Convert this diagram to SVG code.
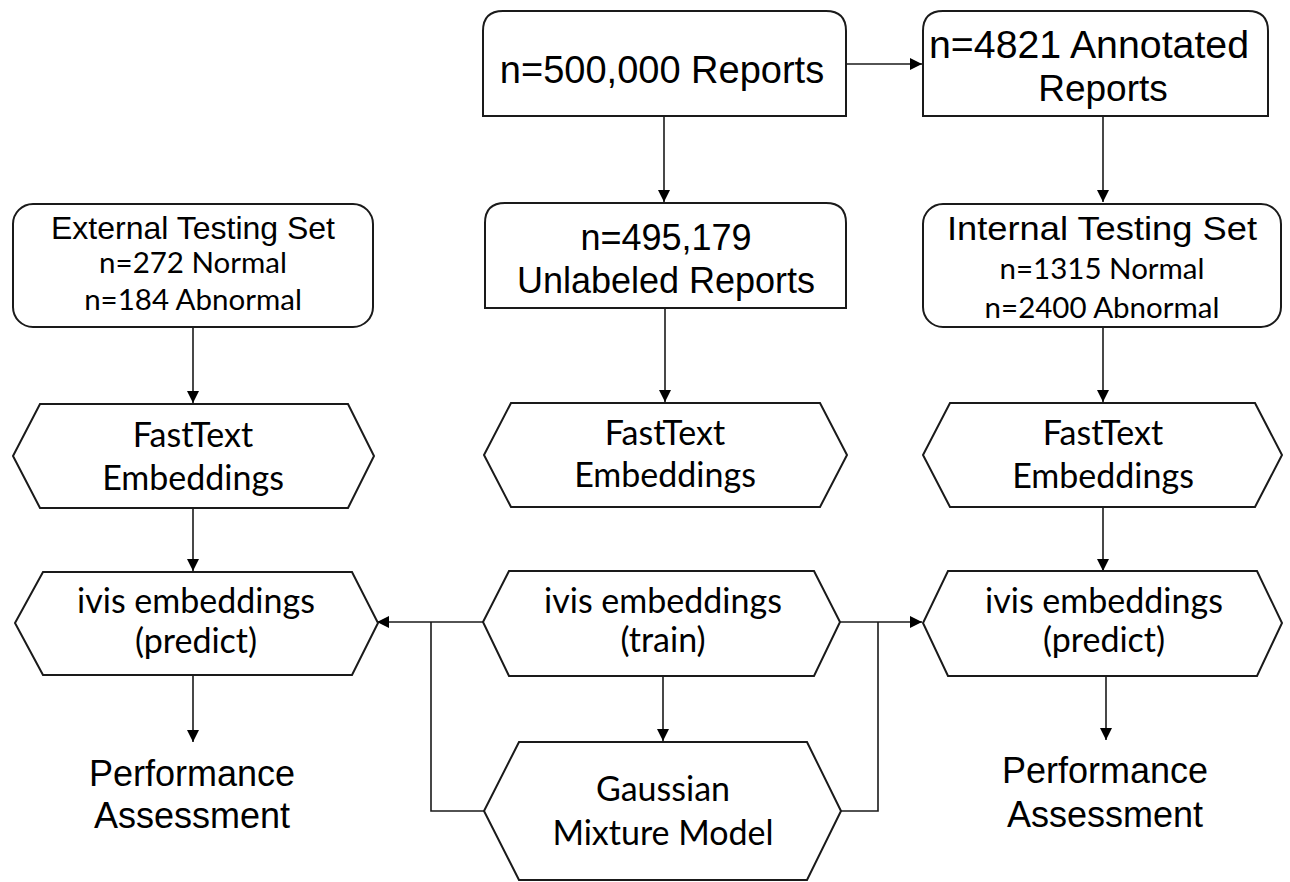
<svg xmlns="http://www.w3.org/2000/svg" width="1290" height="882" viewBox="0 0 1290 882">
<style>
.shape{fill:#fff;stroke:#1a1a1a;stroke-width:2}
.ar{font-family:"Liberation Sans",Arial,sans-serif;fill:#000;text-anchor:middle}
.cb{font-family:Lato,"Open Sans",sans-serif;fill:#000;text-anchor:middle}
.hx{font-size:34px}
.sub{font-size:29.5px}
.ln{fill:none;stroke:#1a1a1a;stroke-width:1.6}
</style>
<defs>
<marker id="ah" markerWidth="12" markerHeight="12" viewBox="0 0 12 12" refX="12" refY="6" orient="auto" markerUnits="userSpaceOnUse">
<path d="M0,0 L12,6 L0,12 Z" fill="#000"/>
</marker>
</defs>
<rect width="1290" height="882" fill="#fff"/>
<g id="connectors">
<line class="ln" x1="846" y1="64" x2="922" y2="64" marker-end="url(#ah)"/>
<line class="ln" x1="664" y1="116" x2="664" y2="202" marker-end="url(#ah)"/>
<line class="ln" x1="1103" y1="116" x2="1103" y2="202" marker-end="url(#ah)"/>
<line class="ln" x1="193" y1="327" x2="193" y2="403" marker-end="url(#ah)"/>
<line class="ln" x1="665" y1="308" x2="665" y2="402" marker-end="url(#ah)"/>
<line class="ln" x1="1103" y1="327" x2="1103" y2="402" marker-end="url(#ah)"/>
<line class="ln" x1="193" y1="508" x2="193" y2="571" marker-end="url(#ah)"/>
<line class="ln" x1="1103" y1="508" x2="1103" y2="571" marker-end="url(#ah)"/>
<line class="ln" x1="193" y1="676" x2="193" y2="742" marker-end="url(#ah)"/>
<line class="ln" x1="663" y1="676" x2="663" y2="741" marker-end="url(#ah)"/>
<line class="ln" x1="1106" y1="676" x2="1106" y2="740" marker-end="url(#ah)"/>
<line class="ln" x1="483" y1="622" x2="377" y2="622" marker-end="url(#ah)"/>
<polyline class="ln" points="431,622 431,811 484,811"/>
<line class="ln" x1="840" y1="622" x2="922" y2="622" marker-end="url(#ah)"/>
<polyline class="ln" points="878,622 878,811 841,811"/>
</g>
<g id="n500k">
<path class="shape" d="M483,116 L483,31 Q483,11 503,11 L826,11 Q846,11 846,31 L846,116 Z"/>
<text class="ar" x="662" y="83" font-size="38">n=500,000 Reports</text>
</g>
<g id="n4821">
<path class="shape" d="M923,116 L923,31 Q923,11 943,11 L1248,11 Q1268,11 1268,31 L1268,116 Z"/>
<text class="ar" x="1089" y="58" font-size="38" textLength="320" lengthAdjust="spacingAndGlyphs">n=4821 Annotated</text>
<text class="ar" x="1103" y="101" font-size="37">Reports</text>
</g>
<g id="unlabeled">
<path class="shape" d="M485,308 L485,223 Q485,203 505,203 L826,203 Q846,203 846,223 L846,308 Z"/>
<text class="ar" x="666" y="250" font-size="36">n=495,179</text>
<text class="ar" x="666" y="293" font-size="36">Unlabeled Reports</text>
</g>
<g id="external">
<rect class="shape" x="13" y="204" width="360" height="123" rx="20"/>
<text class="ar" x="193" y="239" font-size="32">External Testing Set</text>
<text class="cb sub" x="193" y="273">n=272 Normal</text>
<text class="cb sub" x="193" y="310">n=184 Abnormal</text>
</g>
<g id="internal">
<rect class="shape" x="923" y="204" width="358" height="123" rx="20"/>
<text class="ar" x="1102" y="240" font-size="33" textLength="310" lengthAdjust="spacingAndGlyphs">Internal Testing Set</text>
<text class="cb sub" x="1102" y="279">n=1315 Normal</text>
<text class="cb sub" x="1102" y="318">n=2400 Abnormal</text>
</g>
<g id="fasttext-left">
<polygon class="shape" points="40,404 348,404 374,456 348,508 40,508 13,456"/>
<text class="cb hx" x="193" y="447">FastText</text>
<text class="cb hx" x="193" y="490">Embeddings</text>
</g>
<g id="fasttext-mid">
<polygon class="shape" points="511,403 820,403 847,455 820,507 511,507 484,455"/>
<text class="cb hx" x="665" y="445">FastText</text>
<text class="cb hx" x="665" y="487">Embeddings</text>
</g>
<g id="fasttext-right">
<polygon class="shape" points="950,403 1255,403 1282,455 1255,507 950,507 923,455"/>
<text class="cb hx" x="1103" y="445">FastText</text>
<text class="cb hx" x="1103" y="488">Embeddings</text>
</g>
<g id="ivis-left">
<polygon class="shape" points="43,572 352,572 378,623 352,675 43,675 15,623"/>
<text class="cb hx" x="196" y="613">ivis embeddings</text>
<text class="cb hx" x="196" y="653">(predict)</text>
</g>
<g id="ivis-train">
<polygon class="shape" points="509,571 814,571 840,622 814,676 509,676 483,622"/>
<text class="cb hx" x="663" y="613">ivis embeddings</text>
<text class="cb hx" x="663" y="652">(train)</text>
</g>
<g id="ivis-right">
<polygon class="shape" points="948,571 1257,571 1282,623 1257,676 948,676 923,623"/>
<text class="cb hx" x="1104" y="613">ivis embeddings</text>
<text class="cb hx" x="1104" y="652">(predict)</text>
</g>
<g id="gmm">
<polygon class="shape" points="519,742 807,742 841,811 807,880 519,880 484,811"/>
<text class="cb hx" x="663" y="801">Gaussian</text>
<text class="cb hx" x="663" y="845">Mixture Model</text>
</g>
<g id="perf-left">
<text class="ar" x="192" y="786" font-size="36">Performance</text>
<text class="ar" x="192" y="828" font-size="36">Assessment</text>
</g>
<g id="perf-right">
<text class="ar" x="1105" y="783" font-size="36">Performance</text>
<text class="ar" x="1105" y="827" font-size="36">Assessment</text>
</g>
</svg>
